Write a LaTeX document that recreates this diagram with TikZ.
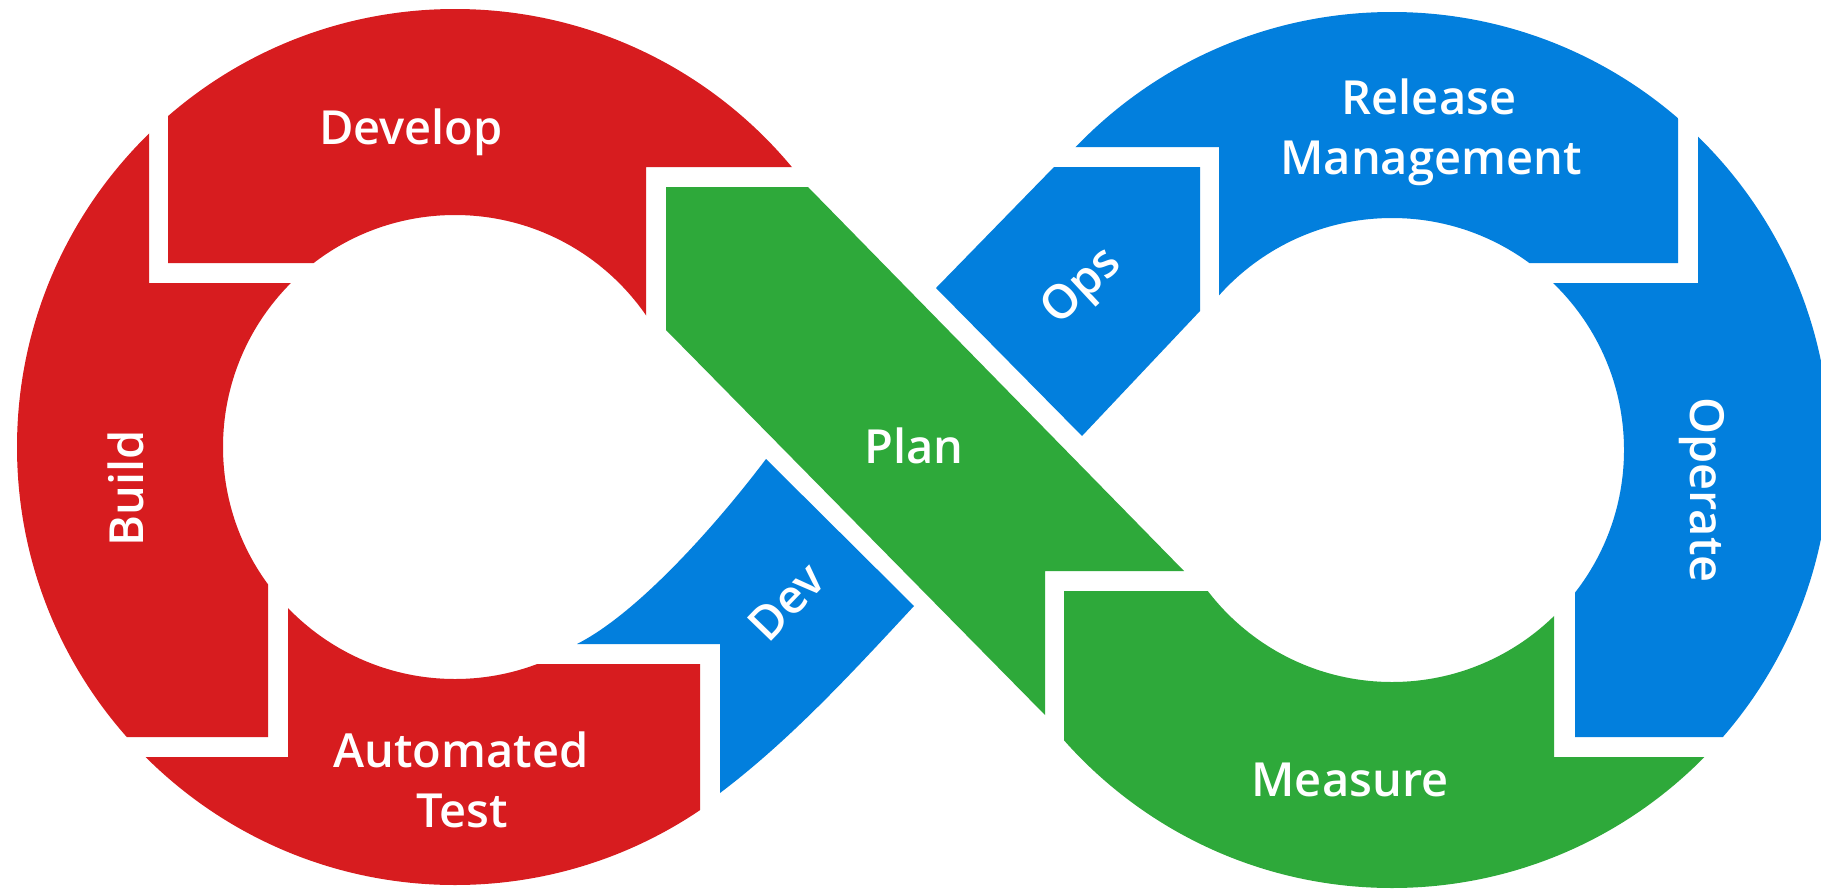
\documentclass[tikz,border=0pt]{standalone}
\usepackage{fontspec}
\newfontfamily\lblfont{Open Sans Semibold}
\definecolor{dvred}{HTML}{D71C1F}
\definecolor{dvblue}{HTML}{027FDD}
\definecolor{dvgreen}{HTML}{2EA93A}
\begin{document}
\begin{tikzpicture}[x=1pt,y=-1pt,
  lbl/.style={text=white,font=\lblfont\fontsize{47}{60}\selectfont,inner sep=0pt},
  ringfill/.style={even odd rule}]
\useasboundingbox (0,0) rectangle (1821,889);
\clip (0,0) rectangle (1821,889);
\fill[white] (0,0) rectangle (1821,889);
\coordinate (cl) at (455,447);
\coordinate (cr) at (1392,450);

% ---- left (red) loop ----
% Develop
\begin{scope}
\clip (168,-10) -- (168,263) -- (455,263) -- (455,447) -- (646,447) -- (646,167) -- (900,167) -- (900,-10) -- cycle;
\fill[dvred, ringfill] (cl) circle[radius=438pt] (cl) circle[radius=232pt];
\end{scope}
% Build
\begin{scope}
\clip (-10,-10) -- (149,-10) -- (149,283) -- (455,283) -- (455,447) -- (268,447) -- (268,737) -- (-10,737) -- cycle;
\fill[dvred, ringfill] (cl) circle[radius=438pt] (cl) circle[radius=232pt];
\end{scope}
% Automated Test
\begin{scope}
\clip (288,447) -- (288,757) -- (-10,757) -- (-10,900) -- (700,900) -- (700,664) -- (455,664) -- (455,447) -- cycle;
\fill[dvred, ringfill] (cl) circle[radius=438pt] (cl) circle[radius=232pt];
\end{scope}

% ---- right loop ----
% Release Management
\begin{scope}
\clip (1219,450) -- (1219,147) -- (900,147) -- (900,-10) -- (1678,-10) -- (1678,263) -- (1392,263) -- (1392,450) -- cycle;
\fill[dvblue, ringfill] (cr) circle[radius=438pt] (cr) circle[radius=232pt];
\end{scope}
% Operate
\begin{scope}
\clip (1698,-10) -- (1698,283) -- (1392,283) -- (1392,450) -- (1575,450) -- (1575,737) -- (1900,737) -- (1900,-10) -- cycle;
\fill[dvblue, ringfill] (cr) circle[radius=438pt] (cr) circle[radius=232pt];
\end{scope}
% Measure
\begin{scope}
\clip (1064,900) -- (1064,591) -- (1392,591) -- (1392,450) -- (1554,450) -- (1554,757) -- (1900,757) -- (1900,900) -- cycle;
\fill[dvgreen, ringfill] (cr) circle[radius=438pt] (cr) circle[radius=232pt];
\end{scope}

% ---- crossing pieces ----
% Plan
\fill[dvgreen] (666,187) -- (808,187) -- (1184,571) -- (1045,571) -- (1045,715) -- (666,330) -- cycle;
% Ops
\fill[dvblue] (1054,167) -- (1200,167) -- (1200,311) -- (1082,436) -- (936,288) -- cycle;
% Dev
\fill[dvblue] (577,644) .. controls (640,612) and (720,520) .. (766,459)
  -- (914,606) .. controls (850,675) and (790,740) .. (720,793) -- (720,644) -- cycle;

% ---- labels ----
\node[lbl, anchor=base] (develop) at (411,144) {Develop};
\node[lbl, anchor=base, rotate=90] (build) at (143,488) {Build};
\node[lbl, anchor=base] (auto1) at (461,767) {Automated};
\node[lbl, anchor=base] (auto2) at (462,827) {Test};
\node[lbl, rotate=46] (dev) at (786,602) {Dev};
\node[lbl, anchor=base] (plan) at (914,463) {Plan};
\node[lbl, rotate=43] (ops) at (1083,288) {Ops};
\node[lbl, anchor=base] (rel1) at (1429,114) {Release};
\node[lbl, anchor=base] (rel2) at (1431,174) {Management};
\node[lbl, anchor=base, rotate=-90] (operate) at (1690,490) {Operate};
\node[lbl, anchor=base] (measure) at (1350,796) {Measure};
\end{tikzpicture}
\end{document}
